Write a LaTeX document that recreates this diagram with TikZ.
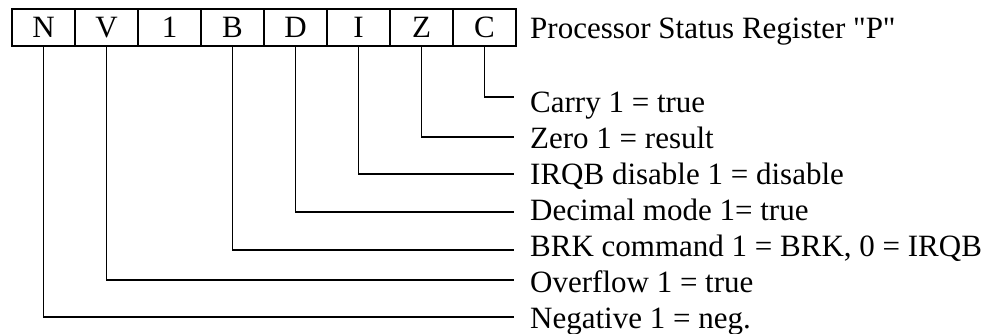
\documentclass[tikz,border=0pt]{standalone}
\usepackage{fontspec}
\setmainfont{Liberation Serif}
\begin{document}
\begin{tikzpicture}[x=1pt,y=-1pt,
	bitcell/.style={draw,line width=1.3pt,minimum width=63pt,minimum height=37pt,inner sep=0pt,font=\fontsize{31}{36}\selectfont},
	flagtext/.style={anchor=base west,inner sep=0pt,font=\fontsize{31}{36}\selectfont},
	wire/.style={line width=1.3pt}]
\useasboundingbox (0,0) rectangle (987,333);

\foreach \s/\t in {1/N,2/V,3/1,4/B,5/D,6/I,7/Z,8/C}
{
	\node[bitcell] (c\s) at ({12+63*\s-31.5},27.5) {\t};
};

\node[flagtext] (title) at (530,38) {Processor Status Register \textquotedbl P\textquotedbl};

\foreach \s/\h/\b/\txt in {8/97/112/Carry 1 = true,
	7/137/148/Zero 1 = result,
	6/174/184/IRQB disable 1 = disable,
	5/212/220/Decimal mode 1= true,
	4/250/256/{BRK command 1 = BRK, 0 = IRQB},
	2/280/292/Overflow 1 = true,
	1/317/328/Negative 1 = neg.}
{
	\node[flagtext] (l\s) at (530,\b) {\txt};
	\coordinate (e\s) at (514,\h);
	\draw[wire] (c\s.south) |- (e\s);
};
\end{tikzpicture}
\end{document}
